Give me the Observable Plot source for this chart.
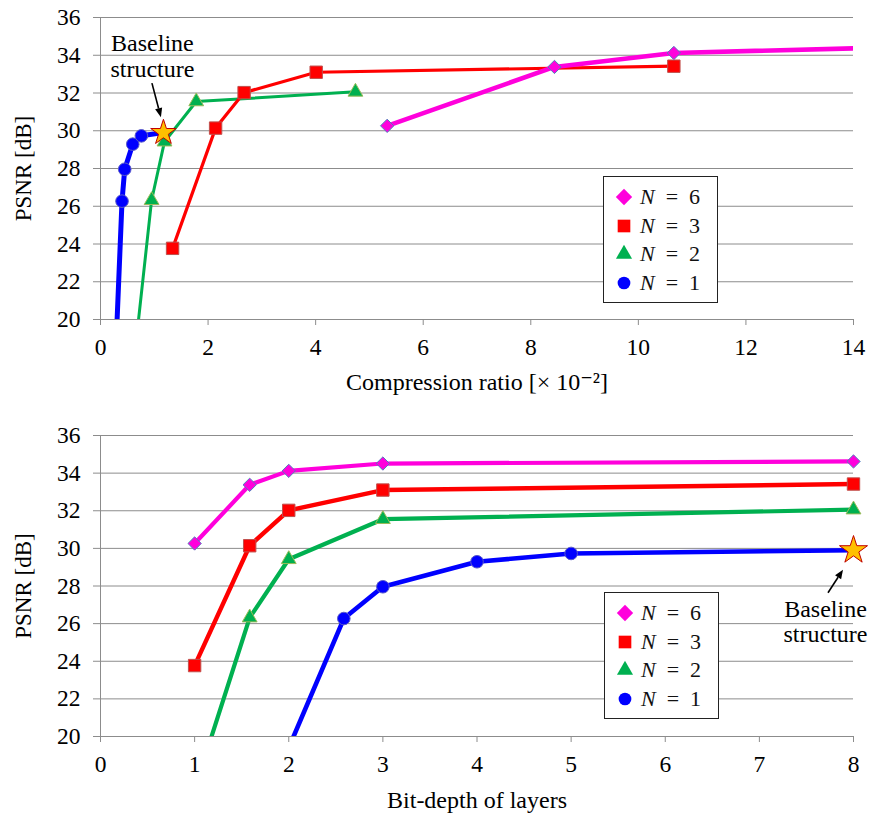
<!DOCTYPE html>
<html>
<head>
<meta charset="utf-8">
<script src="https://cdn.jsdelivr.net/npm/d3@7"></script>
<script src="https://cdn.jsdelivr.net/npm/@observablehq/plot@0.6"></script>
<style>
  body { margin: 0; background: #fff; }
  #wrap { position: relative; width: 872px; height: 817px; font-family: "Liberation Serif", "Tinos", "Times New Roman", "Times", "DejaVu Serif", "Noto Serif", serif; }
  #wrap svg { display: block; }
  #wrap svg text { font-family: "Liberation Serif", "Tinos", "Times New Roman", "Times", "DejaVu Serif", "Noto Serif", serif; }
  .legend { position: absolute; border: 1.4px solid #222; background: #fff; box-sizing: border-box; }
  .legend .row { position: absolute; left: 0; height: 28px; width: 110px; }
  .legend .row svg { position: absolute; left: 8px; top: 2px; }
  .legend .row span { position: absolute; left: 36px; top: 0; line-height: 28px; font-size: 22px; white-space: nowrap; color: #111; }
</style>
</head>
<body>
<div id="wrap"></div>
<script>
// ---------------- data ----------------
const seriesKeys = ["N6", "N3", "N2", "N1"];
const seriesLabels = ["6", "3", "2", "1"];

// compression ratio [x 10^-2]
const crN6 = [5.33, 8.44, 10.66, 16.0, 42.6];
const crN3 = [1.34, 2.14, 2.67, 4.01, 10.66];
const crN2 = [0.60, 0.95, 1.19, 1.78, 4.74];
const crN1 = [0.30, 0.40, 0.45, 0.60, 0.76, 1.17];

// bit-depth of layers
const bitsN6 = [1, 1.585, 2, 3, 8];
const bitsN3 = [1, 1.585, 2, 3, 8];
const bitsN2 = [1, 1.585, 2, 3, 8];
const bitsN1 = [2, 2.585, 3, 4, 5, 8];

// PSNR [dB]
const psnrN6 = [30.26, 33.38, 34.12, 34.51, 34.62];
const psnrN3 = [23.77, 30.14, 32.02, 33.10, 33.42];
const psnrN2 = [17.2, 26.32, 29.42, 31.55, 32.06];
const psnrN1 = [19.4, 26.27, 27.96, 29.29, 29.73, 29.9];

// baseline structure (N = 1, 8 bits)
const baselineCr = 1.17;
const baselineBits = 8;
const baselinePsnr = 29.9;
const baselineText = "Baseline\nstructure";

const yTicks = [20, 22, 24, 26, 28, 30, 32, 34, 36];
const xTicksTop = [0, 2, 4, 6, 8, 10, 12, 14];
const xTicksBottom = [0, 1, 2, 3, 4, 5, 6, 7, 8];
const yLabel = "PSNR [dB]";
const xLabelTop = "Compression ratio [\u00D7 10\u207B\u00B2]";
const xLabelBottom = "Bit-depth of layers";

// ---------------- styles ----------------
const styles = {
  N6: {color: "#ff00dc", symbol: "diamond2", r: 6.0, outline: "#4f81bd", legendSym: d3.symbolDiamond2, legendSize: 170},
  N3: {color: "#ff0000", symbol: "square", r: 7.0, outline: "#c0504d", legendSym: d3.symbolSquare, legendSize: 160},
  N2: {color: "#00b050", symbol: "triangle", r: 5.5, outline: "#9bbb59", legendSym: d3.symbolTriangle, legendSize: 112},
  N1: {color: "#0000ff", symbol: "circle", r: 6.3, outline: "#5b5bc8", legendSym: d3.symbolCircle, legendSize: 127}
};
const FONT = "'Liberation Serif', 'Tinos', 'Times New Roman', 'Times', 'DejaVu Serif', 'Noto Serif', serif";
const GRID = "#8c8c8c";

const table = {
  N6: {cr: crN6, bits: bitsN6, psnr: psnrN6},
  N3: {cr: crN3, bits: bitsN3, psnr: psnrN3},
  N2: {cr: crN2, bits: bitsN2, psnr: psnrN2},
  N1: {cr: crN1, bits: bitsN1, psnr: psnrN1}
};
function rows(key) {
  const t = table[key];
  return t.psnr.map((p, i) => ({cr: t.cr[i], bits: t.bits[i], psnr: p}));
}
const baselineRows = [{cr: baselineCr, bits: baselineBits, psnr: baselinePsnr}];

function makeChart(cfg) {
  const drawOrder = ["N1", "N2", "N3", "N6"];
  const marks = [
    Plot.gridY(yTicks, {stroke: GRID, strokeOpacity: 1, strokeWidth: 1}),
    Plot.ruleX([0], {stroke: GRID, strokeWidth: 1}),
    Plot.axisY(yTicks, {tickSize: 7, tickPadding: 13, fontSize: 23.5, stroke: GRID, fill: "#000", label: null}),
    Plot.axisX(cfg.xTicks, {tickSize: 6, tickPadding: 13, fontSize: 23.5, stroke: GRID, fill: "#000", label: null})
  ];
  for (const k of drawOrder) {
    const s = styles[k];
    marks.push(Plot.line(rows(k), {x: cfg.xKey, y: "psnr", stroke: s.color, strokeWidth: cfg.widths[k], clip: true}));
  }
  for (const k of drawOrder) {
    const s = styles[k];
    const pts = rows(k).filter(d => d.psnr >= cfg.yDomain[0] && d[cfg.xKey] <= cfg.xDomain[1] &&
      !(k === "N1" && d.bits === baselineBits));
    marks.push(Plot.dot(pts, {x: cfg.xKey, y: "psnr", symbol: s.symbol, r: s.r, fill: s.color, stroke: s.outline, strokeWidth: 1}));
  }
  marks.push(Plot.dot(baselineRows, {x: cfg.xKey, y: "psnr", symbol: "star", r: cfg.starR, fill: "#ffc000", stroke: "#c00000", strokeWidth: 1}));
  marks.push(Plot.text(baselineRows, {x: cfg.xKey, y: "psnr", text: () => baselineText, dx: cfg.textDx, dy: cfg.textDy,
    fontSize: 24, lineHeight: 1.07, lineAnchor: "middle", textAnchor: "middle", fill: "#000"}));
  marks.push(Plot.text([yLabel], {text: d => d, frameAnchor: "left", dx: -77, rotate: -90, fontSize: 23, fill: "#000",
    lineAnchor: "middle", textAnchor: "middle"}));
  marks.push(Plot.text([cfg.xLabel], {text: d => d, frameAnchor: "bottom", dy: cfg.xLabelDy, fontSize: 24, fill: "#000",
    lineAnchor: "middle", textAnchor: "middle"}));

  const chart = Plot.plot({
    width: 872, height: cfg.height,
    marginLeft: 100, marginRight: 19, marginTop: cfg.marginTop, marginBottom: cfg.marginBottom,
    x: {domain: cfg.xDomain},
    y: {domain: cfg.yDomain},
    style: {fontFamily: FONT, background: "#fff", overflow: "visible"},
    marks
  });

  // arrow pointing to the baseline star
  const sx = chart.scale("x"), sy = chart.scale("y");
  const px = sx.apply(baselineRows[0][cfg.xKey]), py = sy.apply(baselineRows[0].psnr);
  const [ax1, ay1, ax2, ay2] = cfg.arrow;
  const x1 = px + ax1, y1 = py + ay1, x2 = px + ax2, y2 = py + ay2;
  const ang = Math.atan2(y2 - y1, x2 - x1), L = 9, W = 3.6;
  const bx = x2 - L * Math.cos(ang), by = y2 - L * Math.sin(ang);
  const g = d3.select(chart).append("g");
  g.append("line").attr("x1", x1).attr("y1", y1).attr("x2", bx).attr("y2", by).attr("stroke", "#000").attr("stroke-width", 1.6);
  g.append("path").attr("fill", "#000").attr("d",
    `M${x2},${y2}L${bx - W * Math.sin(ang)},${by + W * Math.cos(ang)}L${bx + W * Math.sin(ang)},${by - W * Math.cos(ang)}Z`);
  return chart;
}

function makeLegend(left, topPx) {
  const div = document.createElement("div");
  div.className = "legend";
  div.style.left = left + "px"; div.style.top = topPx + "px";
  div.style.width = "115px"; div.style.height = "127px";
  seriesKeys.forEach((k, i) => {
    const s = styles[k];
    const row = document.createElement("div");
    row.className = "row";
    row.style.top = (6 + i * 28.5) + "px";
    const svg = d3.create("svg").attr("width", 24).attr("height", 24);
    svg.append("path").attr("transform", "translate(12,12)").attr("d", d3.symbol(s.legendSym, s.legendSize)()).attr("fill", s.color);
    row.appendChild(svg.node());
    const span = document.createElement("span");
    span.innerHTML = `<i>N</i>\u2002=\u2002${seriesLabels[i]}`;
    row.appendChild(span);
    div.appendChild(row);
  });
  return div;
}

const wrap = document.getElementById("wrap");
const chartTop = makeChart({
  xKey: "cr", xDomain: [0, 14], yDomain: [20, 36], xTicks: xTicksTop, xLabel: xLabelTop,
  height: 410, marginTop: 17, marginBottom: 91, xLabelDy: 63,
  widths: {N6: 4.6, N3: 3.2, N2: 3.0, N1: 5.0},
  starR: 8.0, textDx: -11, textDy: -77, arrow: [-11, -49, -2, -15]
});
const chartBottom = makeChart({
  xKey: "bits", xDomain: [0, 8], yDomain: [20, 36], xTicks: xTicksBottom, xLabel: xLabelBottom,
  height: 407, marginTop: 25, marginBottom: 81, xLabelDy: 64,
  widths: {N6: 4.2, N3: 4.4, N2: 4.2, N1: 4.6},
  starR: 8.8, textDx: -28, textDy: 71, arrow: [-25, 43, -10, 20]
});
wrap.appendChild(chartTop);
wrap.appendChild(chartBottom);
wrap.appendChild(makeLegend(603, 176));
wrap.appendChild(makeLegend(604, 592));
</script>
</body>
</html>
